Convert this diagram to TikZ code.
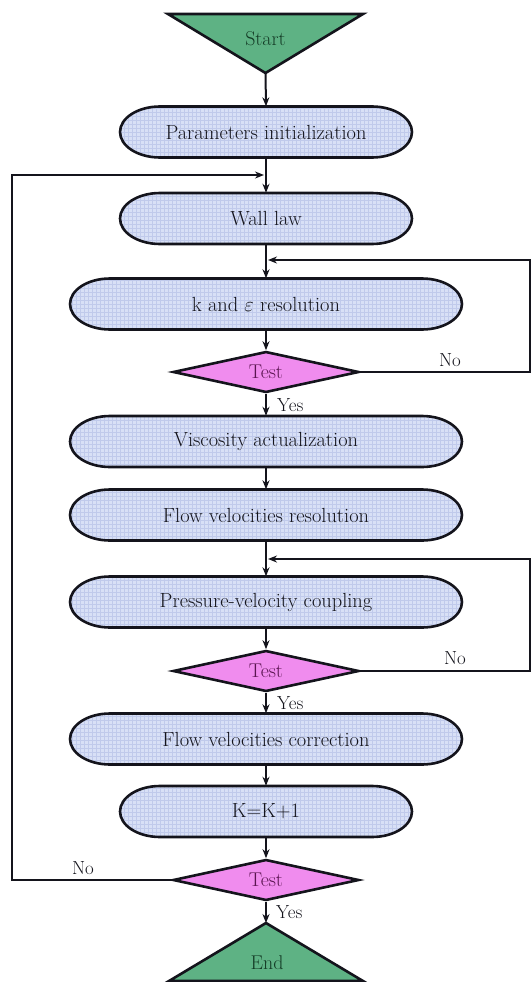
\documentclass[tikz,border=0pt]{standalone}
\usetikzlibrary{shapes.geometric,arrows.meta,calc}
\definecolor{boxfill}{RGB}{216,224,246}
\definecolor{gridc}{RGB}{192,202,235}
\definecolor{trifill}{RGB}{94,178,132}
\definecolor{tritext}{RGB}{20,60,38}
\definecolor{dfill}{RGB}{240,140,238}
\definecolor{dtext}{RGB}{90,20,80}
\definecolor{ink}{RGB}{20,20,28}
\tikzset{
  outline/.style={line width=2.6bp, draw=ink},
  flow/.style={line width=2bp, draw=ink, -{Stealth[length=9bp,width=7bp]}},
  boxtext/.style={inner sep=0pt, text=ink, font=\fontsize{20.5}{24}\selectfont},
  testnode/.style={diamond, aspect=4.5, draw=ink, line width=2.6bp, fill=dfill, minimum width=186bp, minimum height=41bp, inner sep=0pt, text=dtext, font=\fontsize{20}{24}\selectfont},
  lbl/.style={text=ink, font=\fontsize{19}{22}\selectfont, inner sep=0pt},
  tritxt/.style={text=tritext, font=\fontsize{20}{24}\selectfont, inner sep=0pt},
}
% name, cx, cy, halfwidth, text
\newcommand\capsule[5]{%
  \begin{scope}
    \path[clip] (#2-#4+40,#3+25.5) -- (#2+#4-40,#3+25.5)
      arc[start angle=90,end angle=-90,x radius=40bp,y radius=25.5bp]
      -- (#2-#4+40,#3-25.5)
      arc[start angle=270,end angle=90,x radius=40bp,y radius=25.5bp] -- cycle;
    \fill[boxfill] (#2-#4,#3-26) rectangle (#2+#4,#3+26);
    \draw[gridc, line width=0.4bp, step=4] (#2-#4,#3-26) grid (#2+#4,#3+26);
  \end{scope}
  \draw[outline] (#2-#4+40,#3+25.5) -- (#2+#4-40,#3+25.5)
      arc[start angle=90,end angle=-90,x radius=40bp,y radius=25.5bp]
      -- (#2-#4+40,#3-25.5)
      arc[start angle=270,end angle=90,x radius=40bp,y radius=25.5bp] -- cycle;
  \node[boxtext, minimum height=51bp] (#1) at (#2,#3) {#5};
}
\begin{document}
\begin{tikzpicture}[x=1bp,y=1bp]
\useasboundingbox (0,0) rectangle (532,-982);

% Start triangle
\filldraw[outline, fill=trifill] (168,-14) -- (363,-14) -- (265.5,-73) -- cycle;
\node[tritxt] (start) at (265.5,-39) {Start};
\coordinate (starttip) at (265.5,-73);

\capsule{param}{266}{-132}{146}{Parameters initialization}
\capsule{wall}{266}{-218.5}{146}{Wall law}
\capsule{keps}{266}{-304}{196}{k and $\varepsilon$ resolution}
\node[testnode] (t1) at (266,-372) {Test};
\capsule{visc}{266}{-441.5}{196}{Viscosity actualization}
\capsule{fres}{266}{-515}{196}{Flow velocities resolution}
\capsule{press}{266}{-602}{196}{Pressure-velocity coupling}
\node[testnode] (t2) at (266,-671) {Test};
\capsule{fcorr}{266}{-739}{196}{Flow velocities correction}
\capsule{kk}{266}{-811.5}{146}{K=K+1}
\node[testnode] (t3) at (266,-880) {Test};

% End triangle
\filldraw[outline, fill=trifill] (266,-923) -- (363,-981) -- (169,-981) -- cycle;
\node[tritxt] (endn) at (267,-963) {End};
\coordinate (endtip) at (266,-923);

% vertical flow
\draw[flow] (starttip) -- (param.north);
\draw[flow] (param.south) -- (wall.north);
\draw[flow] (wall.south) -- (keps.north);
\draw[flow] (keps.south) -- (t1.north);
\draw[flow] (t1.south) -- (visc.north);
\draw[flow] (visc.south) -- (fres.north);
\draw[flow] (fres.south) -- (press.north);
\draw[flow] (press.south) -- (t2.north);
\draw[flow] (t2.south) -- (fcorr.north);
\draw[flow] (fcorr.south) -- (kk.north);
\draw[flow] (kk.south) -- (t3.north);
\draw[flow] (t3.south) -- (endtip);

% feedback loops
\coordinate (j1) at (264,-175);
\coordinate (j2) at (268,-260);
\coordinate (j3) at (268,-559);
\draw[flow] (t1.east) -- (530,-372) -- (530,-260) -- (j2);
\draw[flow] (t2.east) -- (530,-671) -- (530,-559) -- (j3);
\draw[flow] (t3.west) -- (12,-880) -- (12,-175) -- (j1);

% labels
\node[lbl] (no1) at (450,-360) {No};
\node[lbl, anchor=west] (yes1) at (277,-405) {Yes};
\node[lbl] (no2) at (455,-658) {No};
\node[lbl, anchor=west] (yes2) at (277,-703) {Yes};
\node[lbl] (no3) at (83,-868) {No};
\node[lbl, anchor=west] (yes3) at (276,-912) {Yes};
\end{tikzpicture}
\end{document}
